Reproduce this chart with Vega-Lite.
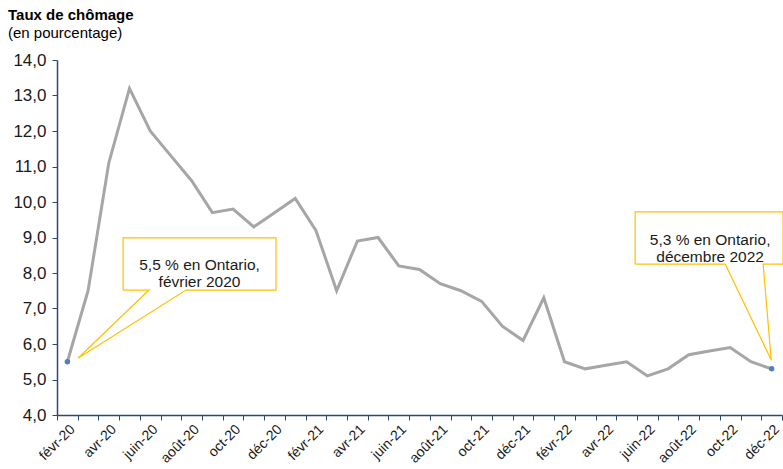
{
  "$schema": "https://vega.github.io/schema/vega-lite/v6.json",
  "autosize": "none",
  "width": 725,
  "height": 355,
  "padding": {"left": 57, "top": 60, "right": 1, "bottom": 54},
  "config": {
    "font": "Liberation Sans",
    "view": {"stroke": null},
    "axis": {"grid": false},
    "axisY": {
      "labelOverlap": false,
      "labelFontSize": 17,
      "tickSize": 5,
      "domainColor": "#2E4A6B",
      "tickColor": "#2E4A6B",
      "domainWidth": 1.5,
      "labelColor": "#1a1a1a",
      "labelPadding": 6
    }
  },
  "title": {
    "text": "Taux de chômage",
    "subtitle": "(en pourcentage)",
    "anchor": "start",
    "frame": "group",
    "dx": -49,
    "offset": 10,
    "fontSize": 15,
    "fontWeight": "bold",
    "color": "#000000",
    "subtitleFontSize": 15,
    "subtitleColor": "#000000",
    "subtitlePadding": 3
  },
  "datasets": {
    "taux": [
      {"mois": "févr-20", "taux": 5.5},
      {"mois": "mars-20", "taux": 7.5},
      {"mois": "avr-20", "taux": 11.1},
      {"mois": "mai-20", "taux": 13.2},
      {"mois": "juin-20", "taux": 12.0},
      {"mois": "juil-20", "taux": 11.3},
      {"mois": "août-20", "taux": 10.6},
      {"mois": "sept-20", "taux": 9.7},
      {"mois": "oct-20", "taux": 9.8},
      {"mois": "nov-20", "taux": 9.3},
      {"mois": "déc-20", "taux": 9.7},
      {"mois": "janv-21", "taux": 10.1},
      {"mois": "févr-21", "taux": 9.2},
      {"mois": "mars-21", "taux": 7.5},
      {"mois": "avr-21", "taux": 8.9},
      {"mois": "mai-21", "taux": 9.0},
      {"mois": "juin-21", "taux": 8.2},
      {"mois": "juil-21", "taux": 8.1},
      {"mois": "août-21", "taux": 7.7},
      {"mois": "sept-21", "taux": 7.5},
      {"mois": "oct-21", "taux": 7.2},
      {"mois": "nov-21", "taux": 6.5},
      {"mois": "déc-21", "taux": 6.1},
      {"mois": "janv-22", "taux": 7.3},
      {"mois": "févr-22", "taux": 5.5},
      {"mois": "mars-22", "taux": 5.3},
      {"mois": "avr-22", "taux": 5.4},
      {"mois": "mai-22", "taux": 5.5},
      {"mois": "juin-22", "taux": 5.1},
      {"mois": "juil-22", "taux": 5.3},
      {"mois": "août-22", "taux": 5.7},
      {"mois": "sept-22", "taux": 5.8},
      {"mois": "oct-22", "taux": 5.9},
      {"mois": "nov-22", "taux": 5.5},
      {"mois": "déc-22", "taux": 5.3}
    ],
    "points": [
      {"mois": "févr-20", "taux": 5.5},
      {"mois": "déc-22", "taux": 5.3}
    ],
    "bulles": [
      {"id": "a", "ordre": 1, "x": 3.19, "y": 7.52},
      {"id": "a", "ordre": 2, "x": 3.19, "y": 8.99},
      {"id": "a", "ordre": 3, "x": 10.57, "y": 8.99},
      {"id": "a", "ordre": 4, "x": 10.57, "y": 7.52},
      {"id": "a", "ordre": 5, "x": 6.23, "y": 7.52},
      {"id": "a", "ordre": 6, "x": 1.01, "y": 5.6},
      {"id": "a", "ordre": 7, "x": 4.44, "y": 7.52},
      {"id": "a", "ordre": 8, "x": 3.19, "y": 7.52},
      {"id": "b", "ordre": 1, "x": 27.91, "y": 8.25},
      {"id": "b", "ordre": 2, "x": 27.91, "y": 9.72},
      {"id": "b", "ordre": 3, "x": 35.05, "y": 9.72},
      {"id": "b", "ordre": 4, "x": 35.05, "y": 8.25},
      {"id": "b", "ordre": 5, "x": 34.09, "y": 8.25},
      {"id": "b", "ordre": 6, "x": 34.48, "y": 5.55},
      {"id": "b", "ordre": 7, "x": 32.26, "y": 8.25},
      {"id": "b", "ordre": 8, "x": 27.91, "y": 8.25}
    ],
    "textes": [
      {"x": 6.88, "y": 8.23, "texte": "5,5 % en Ontario,\nfévrier 2020"},
      {"x": 31.53, "y": 8.93, "texte": "5,3 % en Ontario,\ndécembre 2022"}
    ]
  },
  "layer": [
    {
      "layer": [
        {
          "data": {"name": "taux"},
          "mark": {"type": "line", "color": "#A6A6A6", "strokeWidth": 3},
          "encoding": {
            "x": {
              "field": "mois",
              "type": "ordinal",
              "sort": null,
              "scale": {"type": "band", "paddingInner": 0, "paddingOuter": 0},
              "axis": {
                "title": null,
                "tickBand": "extent",
                "tickSize": 5,
                "domainColor": "#2E4A6B",
                "tickColor": "#2E4A6B",
                "domainWidth": 1.5,
                "labelAngle": -45,
                "labelAlign": "right",
                "labelBaseline": "top",
                "labelPadding": 2,
                "labelFontSize": 14,
                "labelColor": "#1a1a1a",
                "labelOverlap": false,
                "labelExpr": "test(/^(févr|avr|juin|août|oct|déc)/, datum.label) ? datum.label : ''"
              }
            },
            "y": {
              "field": "taux",
              "type": "quantitative",
              "scale": {"domain": [4, 14], "nice": false, "zero": false},
              "axis": {"title": null, "values": [4, 5, 6, 7, 8, 9, 10, 11, 12, 13, 14], "labelExpr": "replace(format(datum.value, '.1f'), '.', ',')"}
            }
          }
        },
        {
          "data": {"name": "points"},
          "mark": {"type": "point", "filled": true, "color": "#4F81BD", "size": 30, "opacity": 1},
          "encoding": {
            "x": {"field": "mois", "type": "ordinal", "sort": null},
            "y": {
              "field": "taux",
              "type": "quantitative",
              "axis": {"title": null, "values": [4, 5, 6, 7, 8, 9, 10, 11, 12, 13, 14], "labelExpr": "replace(format(datum.value, '.1f'), '.', ',')"}
            }
          }
        }
      ]
    },
    {
      "layer": [
        {
          "data": {"name": "bulles"},
          "mark": {"type": "line", "color": "#FFC000", "strokeWidth": 1.2},
          "encoding": {
            "x": {"field": "x", "type": "quantitative", "scale": {"domain": [0, 35], "nice": false, "zero": false}, "axis": null},
            "y": {
              "field": "y",
              "type": "quantitative",
              "axis": {"title": null, "values": [4, 5, 6, 7, 8, 9, 10, 11, 12, 13, 14], "labelExpr": "replace(format(datum.value, '.1f'), '.', ',')"}
            },
            "detail": {"field": "id"},
            "order": {"field": "ordre"}
          }
        },
        {
          "data": {"name": "textes"},
          "mark": {"type": "text", "fontSize": 15.5, "color": "#1a1a1a", "lineBreak": "\n", "lineHeight": 17, "align": "center", "baseline": "middle"},
          "encoding": {
            "x": {"field": "x", "type": "quantitative"},
            "y": {
              "field": "y",
              "type": "quantitative",
              "axis": {"title": null, "values": [4, 5, 6, 7, 8, 9, 10, 11, 12, 13, 14], "labelExpr": "replace(format(datum.value, '.1f'), '.', ',')"}
            },
            "text": {"field": "texte"}
          }
        }
      ]
    }
  ],
  "resolve": {"scale": {"x": "independent"}, "axis": {"x": "independent"}}
}
